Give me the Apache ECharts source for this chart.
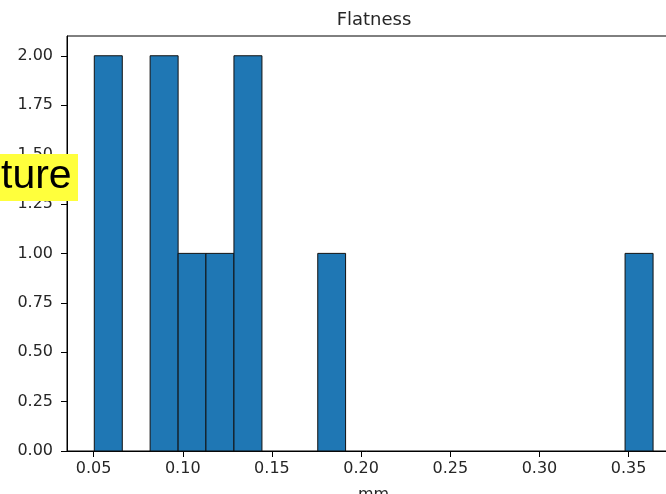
<!DOCTYPE html>
<html>
<head>
<meta charset="utf-8">
<style>html,body{margin:0;padding:0;background:#fff;}#chart{width:666px;height:494px;}</style>
<script src="https://cdn.jsdelivr.net/npm/echarts@6/dist/echarts.min.js"></script>
</head>
<body>
<div id="chart"></div>
<script>
// Histogram bin edges (mm) and counts
const binEdges = [0.0504, 0.0661, 0.0817, 0.0974, 0.1130, 0.1287, 0.1444, 0.1600, 0.1757, 0.1913,
                  0.2070, 0.2227, 0.2383, 0.2540, 0.2696, 0.2853, 0.3010, 0.3166, 0.3323, 0.3480, 0.3637];
const counts = [2, 0, 2, 1, 1, 2, 0, 0, 1, 0, 0, 0, 0, 0, 0, 0, 0, 0, 0, 1];
const xTicks = [0.05, 0.10, 0.15, 0.20, 0.25, 0.30, 0.35];
const yTicks = [0, 0.25, 0.5, 0.75, 1.0, 1.25, 1.5, 1.75, 2.0];
const titleText = 'Flatness';
const xName = 'mm';
const overlayText = 'ture';

const barData = [];
for (let i = 0; i < counts.length; i++) {
  if (counts[i] > 0) barData.push([binEdges[i], binEdges[i + 1], counts[i]]);
}

const chart = echarts.init(document.getElementById('chart'), null, {renderer: 'canvas'});
const font = 'DejaVu Sans';
chart.setOption({
  animation: false,
  backgroundColor: '#fff',
  grid: {left: 67, top: 36, width: 613, height: 415, containLabel: false, outerBoundsMode: 'none',
         show: true, borderColor: '#000', borderWidth: 1, backgroundColor: 'transparent'},
  xAxis: {
    type: 'value', min: 0.0351, max: 0.3788,
    name: xName, nameLocation: 'middle', nameGap: 36,
    nameTextStyle: {fontFamily: font, fontSize: 16, color: '#262626'},
    axisLine: {show: true, lineStyle: {color: '#000', width: 1}},
    axisTick: {show: true, customValues: xTicks, length: 6, lineStyle: {color: '#000'}},
    axisLabel: {customValues: xTicks, formatter: v => v.toFixed(2), margin: 10, fontFamily: font, fontSize: 16, color: '#262626'},
    splitLine: {show: false}
  },
  yAxis: {
    type: 'value', min: 0, max: 2.1,
    axisLine: {show: true, lineStyle: {color: '#000', width: 1}},
    axisTick: {show: true, customValues: yTicks, length: 6, lineStyle: {color: '#000'}},
    axisLabel: {customValues: yTicks, formatter: v => v.toFixed(2), margin: 14, fontFamily: font, fontSize: 16, color: '#262626'},
    splitLine: {show: false}
  },
  series: [{
    type: 'custom',
    data: barData,
    encode: {x: [0, 1], y: 2},
    renderItem: function (params, api) {
      const p0 = api.coord([api.value(0), api.value(2)]);
      const p1 = api.coord([api.value(1), 0]);
      return {
        type: 'rect',
        shape: {x: p0[0], y: p0[1], width: p1[0] - p0[0], height: p1[1] - p0[1]},
        style: {fill: '#1f77b4', stroke: '#111', lineWidth: 1}
      };
    }
  }],
  graphic: [
    {type: 'text', x: 374, y: 20, z: 10,
     style: {text: titleText, fontFamily: font, fontSize: 18, fill: '#262626', textAlign: 'center', textVerticalAlign: 'middle'}},
    {type: 'rect', z: 20, shape: {x: 0, y: 154, width: 78, height: 47}, style: {fill: '#ffff3c'}},
    {type: 'text', z: 21, x: 1, y: 177,
     style: {text: overlayText, fontFamily: 'Liberation Sans', fontSize: 41, fill: '#000', textAlign: 'left', textVerticalAlign: 'middle'}}
  ]
});
</script>
</body>
</html>
